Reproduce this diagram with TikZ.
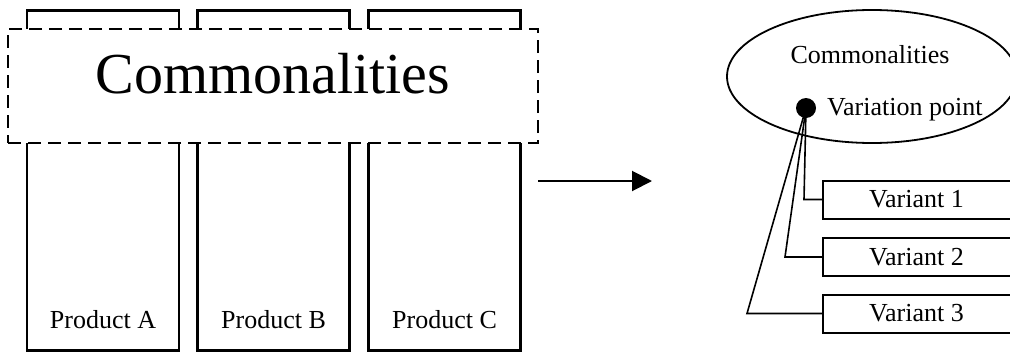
\documentclass[tikz,border=0pt]{standalone}
\usepackage{fontspec}
\setmainfont{Liberation Serif}
\usetikzlibrary{calc}
\usetikzlibrary{shapes.geometric}
\usetikzlibrary{arrows.meta}

\begin{document}
\begin{tikzpicture}[x=1pt,y=-1pt,
    prodbox/.style={draw,line width=2.6pt,rectangle,minimum width=152pt,minimum height=340pt,inner sep=0pt},
    commonbox/.style={draw,fill=white,line width=2.4pt,dash pattern=on 13pt off 7pt,minimum width=530pt,minimum height=114pt,inner sep=0pt},
    varbox/.style={draw,line width=2pt,minimum width=192pt,minimum height=38pt,inner sep=0pt},
    link/.style={line width=1.6pt}]
    % Sizes of the fonts
    \def\big{\fontsize{58}{62}\selectfont}
    \def\sm{\fontsize{26}{30}\selectfont}

    \useasboundingbox (0,0) rectangle (1010,351);
    \clip (0,0) rectangle (1010,351);

    % Draw the product columns
    \node[prodbox] (prodA) at (103,180.5) {};
    \node[prodbox] (prodB) at (273.5,180.5) {};
    \node[prodbox] (prodC) at (444.5,180.5) {};
    \node[anchor=base,font=\sm] (labA) at (103,328) {Product A};
    \node[anchor=base,font=\sm] (labB) at (273.5,328) {Product B};
    \node[anchor=base,font=\sm] (labC) at (444.5,328) {Product C};

    % Dashed commonalities band
    \node[commonbox] (common) at (273,86) {};
    \node[anchor=base,font=\big] (commontext) at (273,93) {Commonalities};

    % Arrow
    \coordinate (arrS) at (538,181);
    \coordinate (arrE) at (652,181);
    \draw[line width=2pt,-{Triangle[length=20pt,width=20pt]}] (arrS) -- (arrE);

    % Ellipse with variation point
    \node[draw,ellipse,line width=1.8pt,minimum width=290pt,minimum height=133pt] (cellipse) at (872,76.5) {};
    \node[anchor=base,font=\sm] (etext) at (870,63) {Commonalities};
    \node[anchor=base west,font=\sm,inner sep=0pt] (vptext) at (827,115) {Variation point};

    % Variants
    \node[varbox,font=\sm] (v1) at (919,199.5) {\hspace*{-5pt}Variant 1};
    \node[varbox,font=\sm] (v2) at (919,257) {\hspace*{-5pt}Variant 2};
    \node[varbox,font=\sm] (v3) at (919,313.5) {\hspace*{-5pt}Variant 3};

    % Links from the variation point
    \coordinate (k1) at (804,199.5);
    \coordinate (k2) at (785,257);
    \coordinate (k3) at (747,313.5);
    \coordinate (vpc) at (806,108);
    \draw[link] (vpc) -- (k1) -- (v1.west);
    \draw[link] (vpc) -- (k2) -- (v2.west);
    \draw[link] (vpc) -- (k3) -- (v3.west);
    \node[circle,fill,inner sep=0pt,minimum size=20pt] (vp) at (vpc) {};

\end{tikzpicture}
\end{document}
